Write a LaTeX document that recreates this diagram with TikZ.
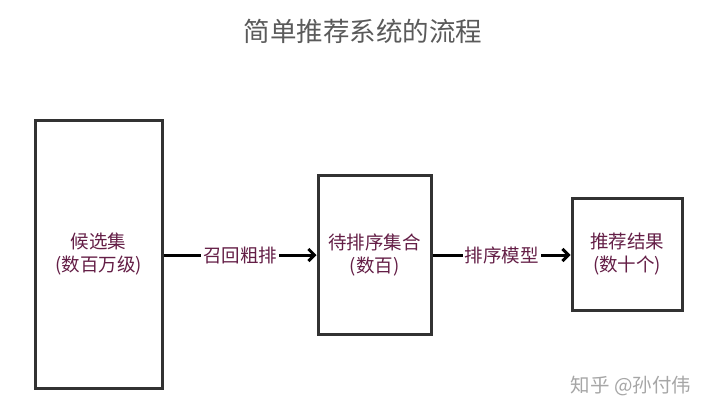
\documentclass[tikz,border=0pt]{standalone}
\usepackage{fontspec}
\setmainfont{Noto Sans CJK SC}
\usetikzlibrary{arrows.meta,positioning,calc}
\definecolor{labelpurple}{RGB}{100,30,70}
\definecolor{titlegray}{RGB}{90,90,90}
\definecolor{boxgray}{RGB}{50,50,50}

\begin{document}
\begin{tikzpicture}[
  x=1pt,y=-1pt,
  font=\fontsize{18.5}{23}\selectfont,
  stage/.style={draw=boxgray,line width=3pt,fill=white,align=center,text=labelpurple,inner sep=0pt},
  flow/.style={line width=3pt,-{Straight Barb[length=6pt,width=12pt,line width=3pt]}},
  edgelabel/.style={fill=white,text=labelpurple,inner sep=2pt}
]
% canvas
\useasboundingbox (0,0) rectangle (720,418);

% title
\node[text=titlegray,font=\fontsize{26.5}{31}\selectfont] (title) at (363,31) {简单推荐系统的流程};

% stages
\node[stage,minimum width=127pt,minimum height=268pt] (cand) at (98.5,254) {候选集\\(数百万级)};
\node[stage,minimum width=113pt,minimum height=159pt] (pool) at (374.5,254.5) {待排序集合\\(数百)};
\node[stage,minimum width=110pt,minimum height=112pt] (result) at (627,254) {推荐结果\\(数十个)};

% connectors
\draw[flow] (cand.east |- 0,255) -- node[edgelabel]{召回粗排} (pool.west |- 0,255);
\draw[flow] (pool.east |- 0,255) -- node[edgelabel]{排序模型} (result.west |- 0,255);

% watermark
\node[text=black!35,font=\fontsize{19.5}{22}\selectfont] (mark) at (631,386) {知乎 @孙付伟};
\end{tikzpicture}
\end{document}
